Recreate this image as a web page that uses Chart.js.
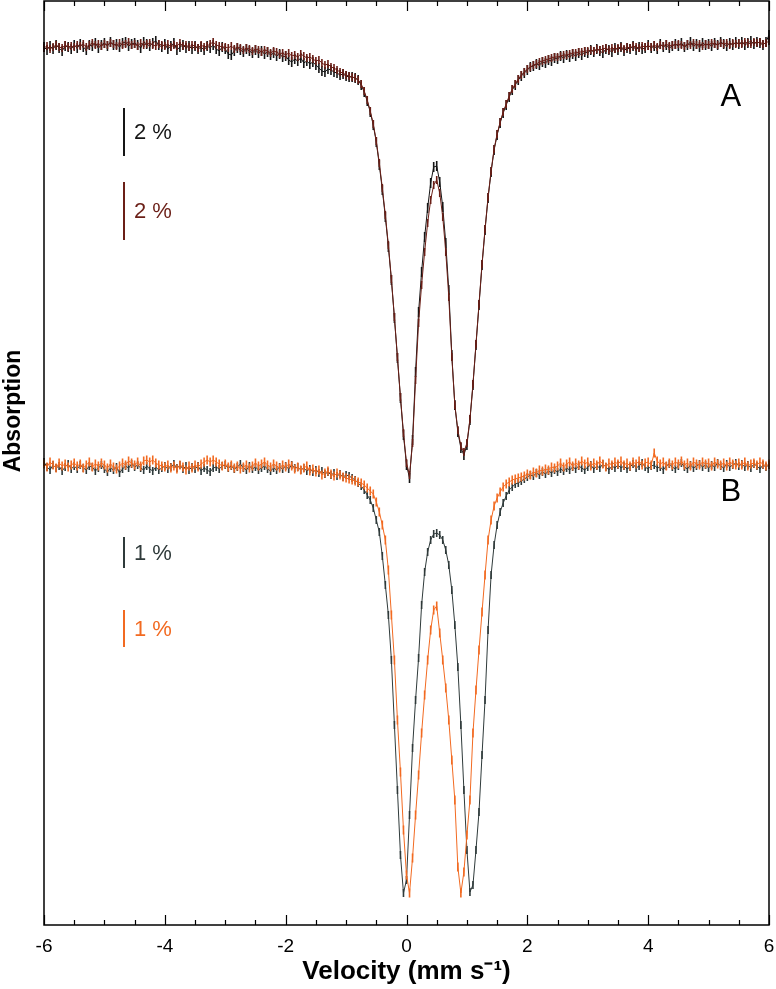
<!DOCTYPE html>
<html>
<head>
<meta charset="utf-8">
<script src="https://cdn.jsdelivr.net/npm/chart.js@4.4.1/dist/chart.umd.min.js"></script>
<style>
  html, body { margin: 0; padding: 0; background: #fff; }
  canvas { display: block; }
</style>
</head>
<body>
<canvas id="spectra" width="776" height="989"></canvas>
<script>
// velocity channels (mm/s)
const velocity = [
  -6,-5.95,-5.9,-5.85,-5.8,-5.75,-5.7,-5.65,-5.6,-5.55,
  -5.5,-5.45,-5.4,-5.35,-5.3,-5.25,-5.2,-5.15,-5.1,-5.05,
  -5,-4.95,-4.9,-4.85,-4.8,-4.75,-4.7,-4.65,-4.6,-4.55,
  -4.5,-4.45,-4.4,-4.35,-4.3,-4.25,-4.2,-4.15,-4.1,-4.05,
  -4,-3.95,-3.9,-3.85,-3.8,-3.75,-3.7,-3.65,-3.6,-3.55,
  -3.5,-3.45,-3.4,-3.35,-3.3,-3.25,-3.2,-3.15,-3.1,-3.05,
  -3,-2.95,-2.9,-2.85,-2.8,-2.75,-2.7,-2.65,-2.6,-2.55,
  -2.5,-2.45,-2.4,-2.35,-2.3,-2.25,-2.2,-2.15,-2.1,-2.05,
  -2,-1.95,-1.9,-1.85,-1.8,-1.75,-1.7,-1.65,-1.6,-1.55,
  -1.5,-1.45,-1.4,-1.35,-1.3,-1.25,-1.2,-1.15,-1.1,-1.05,
  -1,-0.95,-0.9,-0.85,-0.8,-0.75,-0.7,-0.65,-0.6,-0.55,
  -0.5,-0.45,-0.4,-0.35,-0.3,-0.25,-0.2,-0.15,-0.1,-0.05,
  0,0.05,0.1,0.15,0.2,0.25,0.3,0.35,0.4,0.45,
  0.5,0.55,0.6,0.65,0.7,0.75,0.8,0.85,0.9,0.95,
  1,1.05,1.1,1.15,1.2,1.25,1.3,1.35,1.4,1.45,
  1.5,1.55,1.6,1.65,1.7,1.75,1.8,1.85,1.9,1.95,
  2,2.05,2.1,2.15,2.2,2.25,2.3,2.35,2.4,2.45,
  2.5,2.55,2.6,2.65,2.7,2.75,2.8,2.85,2.9,2.95,
  3,3.05,3.1,3.15,3.2,3.25,3.3,3.35,3.4,3.45,
  3.5,3.55,3.6,3.65,3.7,3.75,3.8,3.85,3.9,3.95,
  4,4.05,4.1,4.15,4.2,4.25,4.3,4.35,4.4,4.45,
  4.5,4.55,4.6,4.65,4.7,4.75,4.8,4.85,4.9,4.95,
  5,5.05,5.1,5.15,5.2,5.25,5.3,5.35,5.4,5.45,
  5.5,5.55,5.6,5.65,5.7,5.75,5.8,5.85,5.9,5.95,6
];

// absorption, arbitrary display units (spectra stacked)
const spectrumA1 = [
  87.8,87.5,87.9,87.6,88.0,87.7,87.4,87.9,87.8,87.6,
  88.0,87.7,88.1,87.8,87.5,88.0,87.9,88.2,87.7,88.0,
  88.2,87.9,88.3,88.0,88.1,87.8,88.2,88.3,87.9,88.1,
  88.2,88.0,87.7,88.3,88.1,87.9,88.2,88.4,88.0,87.8,
  88.1,87.6,87.9,88.2,87.5,87.8,88.0,87.7,87.9,87.6,
  87.9,87.6,87.8,87.5,87.9,87.7,88.0,87.6,87.4,87.8,
  87.6,87.1,87.0,87.4,87.7,87.5,87.3,87.6,87.4,87.2,
  87.5,87.2,87.4,87.1,87.3,87.0,87.2,86.9,87.1,86.8,
  86.9,86.5,86.3,86.6,86.4,86.7,86.2,86.4,86.1,86.3,
  86.0,85.7,85.4,85.3,85.6,85.5,85.3,85.2,85.0,85.1,
  84.9,84.8,84.8,84.7,84.5,84.0,83.3,82.4,81.3,80.0,
  78.3,76.0,73.5,70.8,67.8,64.5,60.7,56.7,52.7,49.0,
  46.0,44.7,48.5,55.3,61.3,65.3,68.8,71.7,74.2,75.8,
  75.9,74.3,71.8,68.2,63.5,57.0,52.0,49.3,47.7,47.0,
  48.0,50.5,54.0,58.0,62.0,66.0,69.5,72.7,75.3,77.5,
  79.0,80.2,81.2,82.0,82.8,83.5,84.0,84.5,84.9,85.2,
  85.5,85.8,85.9,86.1,86.0,86.3,86.2,86.5,86.4,86.7,
  86.6,86.9,86.7,87.0,86.8,87.1,86.9,87.2,87.0,87.3,
  87.2,87.5,87.3,87.6,87.4,87.2,87.6,87.5,87.3,87.7,
  87.5,87.8,87.4,87.7,87.6,87.9,87.5,87.8,87.6,87.7,
  88.0,87.7,87.9,87.6,88.1,87.8,88.0,87.7,87.9,88.1,
  87.9,88.2,87.8,88.0,88.3,87.9,88.1,87.8,88.2,88.0,
  88.1,87.9,88.2,88.0,88.3,88.1,87.9,88.2,88.0,88.3,
  88.1,88.3,88.0,88.2,88.4,88.1,88.3,88.2,88.0,88.3,89.0
];

const spectrumA2 = [
  87.7,87.9,87.6,87.8,88.0,87.8,87.7,88.0,87.8,87.9,
  87.8,88.0,87.9,88.1,87.8,88.0,88.2,88.0,88.1,87.9,
  88.1,88.0,88.2,88.1,87.9,88.2,88.0,88.1,88.3,88.0,
  88.1,87.9,88.2,88.0,88.1,88.2,88.0,87.9,88.1,88.0,
  87.9,88.1,87.8,88.0,87.9,88.2,87.9,88.0,87.8,88.0,
  87.9,87.7,88.0,87.8,87.9,88.1,88.3,88.0,87.9,87.8,
  87.8,87.7,87.9,87.6,87.8,87.7,87.5,87.7,87.6,87.4,
  87.6,87.5,87.3,87.5,87.4,87.2,87.4,87.3,87.1,87.2,
  87.0,87.2,86.9,87.0,86.8,87.1,86.9,86.7,86.8,86.6,
  86.4,86.5,86.2,86.0,86.1,85.8,85.7,85.5,85.3,85.2,
  85.0,84.9,84.8,84.7,84.5,84.1,83.4,82.5,81.4,80.1,
  78.4,76.2,73.7,71.0,68.0,64.6,60.8,56.8,52.8,49.2,
  46.2,45.0,48.2,54.5,60.2,64.0,67.3,70.2,72.5,74.0,
  74.5,73.2,70.8,67.3,62.8,56.8,52.0,49.5,47.9,47.3,
  48.2,50.6,54.1,58.1,62.1,66.1,69.6,72.8,75.4,77.6,
  79.1,80.3,81.3,82.1,82.9,83.6,84.1,84.6,85.0,85.3,
  85.6,85.8,86.0,86.1,86.3,86.4,86.5,86.6,86.7,86.8,
  86.8,86.9,87.0,87.0,87.1,87.2,87.2,87.3,87.3,87.4,
  87.4,87.5,87.4,87.6,87.5,87.6,87.7,87.5,87.7,87.6,
  87.7,87.8,87.6,87.8,87.7,87.9,87.8,87.7,87.9,87.8,
  87.9,87.8,88.0,87.8,88.0,87.9,88.1,87.9,88.0,88.0,
  88.1,88.0,87.9,88.1,88.0,88.2,88.0,88.1,87.9,88.1,
  88.0,88.2,88.1,88.0,88.2,88.1,88.2,88.0,88.2,88.1,
  88.2,88.1,88.3,88.2,88.1,88.3,88.2,88.3,88.1,88.2,88.4
];

const spectrumB1 = [
  46.3,45.8,45.5,46.0,45.7,45.9,45.4,45.8,46.1,45.6,
  45.9,45.6,46.0,45.7,45.5,45.9,45.8,45.4,45.7,46.0,
  45.6,45.3,45.7,45.5,45.8,45.2,45.6,45.9,45.7,46.1,
  45.8,46.0,45.7,45.5,45.9,45.6,45.4,45.8,45.5,45.7,
  45.9,45.6,45.8,46.1,45.7,46.0,45.6,45.9,45.5,45.8,
  45.6,45.9,45.4,45.7,45.5,45.3,45.7,45.8,45.6,45.9,
  46.0,45.7,45.9,45.6,45.8,46.1,45.7,45.5,45.9,45.6,
  45.8,45.5,45.7,45.9,45.6,45.4,45.7,45.5,45.8,45.6,
  45.9,45.6,46.0,45.7,45.8,45.5,45.7,45.4,45.6,45.3,
  45.5,45.2,45.4,45.1,45.3,45.0,45.2,44.9,45.1,44.8,
  45.0,44.9,44.7,44.5,44.2,43.9,43.5,43.0,42.5,41.7,
  40.5,39.3,36.9,34.0,31.0,26.5,20.0,13.5,7.0,3.2,
  4.5,11.0,17.7,22.5,26.7,32.0,35.3,37.3,38.5,39.1,
  39.2,39.0,38.5,37.5,36.0,33.5,30.0,25.8,20.0,13.5,
  7.5,3.3,4.0,7.5,11.3,17.0,22.5,29.5,35.0,38.0,
  40.0,41.3,42.2,42.9,43.5,43.8,44.1,44.2,44.4,44.6,
  44.8,45.0,44.9,45.2,45.0,45.3,45.1,45.4,45.2,45.5,
  45.3,45.6,45.4,45.7,45.5,45.8,45.6,45.9,45.7,45.5,
  45.8,46.0,45.6,45.9,45.7,46.1,45.8,45.5,45.9,45.7,
  46.0,45.7,45.9,45.6,45.8,46.1,45.7,45.9,46.2,45.8,
  45.6,45.9,46.0,45.7,45.8,45.5,45.9,46.1,45.8,45.6,
  45.9,46.2,45.8,45.6,46.0,45.7,45.9,46.1,45.8,46.0,
  45.7,46.0,45.8,46.2,45.9,45.7,46.1,45.8,46.0,46.2,
  45.9,46.1,45.8,46.0,45.7,46.1,45.9,45.6,46.0,45.8,46.0
];

const spectrumB2 = [
  46.1,45.8,46.3,46.0,45.7,46.2,45.9,46.1,45.8,46.0,
  46.2,45.9,46.1,45.7,46.0,46.3,45.8,46.1,45.9,46.2,
  46.0,45.7,46.1,45.8,45.6,45.9,46.2,46.0,46.4,46.2,
  46.0,46.3,45.9,46.4,46.5,46.3,46.5,46.2,46.0,45.9,
  45.8,46.0,45.7,45.9,45.6,46.0,45.8,45.5,45.9,45.7,
  46.0,45.8,46.1,46.3,46.5,46.3,46.5,46.3,46.1,45.9,
  46.1,45.8,46.0,45.7,45.9,45.6,45.8,46.0,45.7,45.9,
  46.2,45.9,46.1,46.3,46.0,45.8,46.1,45.9,45.7,46.0,
  45.8,46.1,45.9,45.6,45.8,45.5,45.7,45.9,45.4,45.6,
  45.3,45.5,45.0,45.2,45.4,45.1,44.9,45.2,45.0,44.8,
  44.7,44.6,44.5,44.4,44.3,44.2,44.0,43.7,43.4,43.1,
  42.3,41.3,40.0,38.5,35.5,31.0,26.5,20.5,15.3,9.5,
  5.0,3.2,6.7,11.0,15.0,19.2,23.0,26.5,29.5,31.5,
  31.9,29.2,26.5,23.7,20.5,16.5,12.5,5.8,3.2,5.3,
  9.0,12.5,19.2,23.5,27.5,31.3,35.0,38.5,40.5,41.9,
  42.7,43.3,43.8,44.1,44.3,44.5,44.6,44.7,44.8,44.9,
  45.1,45.0,45.3,45.2,45.5,45.4,45.6,45.5,45.8,45.7,
  45.9,46.2,45.8,46.1,46.3,45.9,46.2,46.0,46.4,46.1,
  46.3,45.9,46.2,46.0,46.4,46.1,45.8,46.2,46.0,46.3,
  46.1,46.4,46.0,46.2,45.9,46.3,46.1,46.4,46.0,46.2,
  46.3,46.0,47.2,46.4,46.1,46.3,45.9,46.2,46.0,46.3,
  46.1,46.4,46.0,46.2,45.9,46.3,46.1,46.0,46.3,46.1,
  46.2,45.9,46.3,46.1,46.0,46.2,45.9,46.3,46.1,46.0,
  46.2,46.0,46.3,45.9,46.1,46.2,46.0,46.3,46.1,45.9,46.1
];

const seriesColors = ['#151515', '#6b1f17', '#2f3a3a', '#f26a21'];
const errorHalf = [0.5, 0.4, 0.4, 0.45];

// scale bars: label, top and bottom in absorption units, at this velocity
const scaleBarLabels = ['2 %', '2 %', '1 %', '1 %'];
const scaleBarTop = [81.7, 74.3, 38.8, 31.5];
const scaleBarBottom = [76.9, 68.5, 35.7, 27.8];
const scaleBarVelocity = -4.68;

const panelLabels = ['A', 'B'];
const panelLabelY = [82.8, 43.3];
const panelLabelVelocity = 5.37;

const FONT = "'Liberation Sans', Arial, Helvetica, sans-serif";

const errorBars = {
  id: 'errorBars',
  afterDatasetDraw(chart, args) {
    const ds = chart.data.datasets[args.index];
    const y = chart.scales.y;
    const ctx = chart.ctx;
    ctx.save();
    ctx.strokeStyle = ds.borderColor;
    ctx.lineWidth = 1.6;
    ctx.beginPath();
    args.meta.data.forEach((pt, i) => {
      const v = ds.data[i];
      ctx.moveTo(pt.x, y.getPixelForValue(v + ds.errHalf));
      ctx.lineTo(pt.x, y.getPixelForValue(v - ds.errHalf));
    });
    ctx.stroke();
    ctx.restore();
  }
};

const decorations = {
  id: 'decorations',
  afterDraw(chart) {
    const ctx = chart.ctx;
    const a = chart.chartArea;
    const x = chart.scales.x;
    const y = chart.scales.y;
    ctx.save();

    // frame
    ctx.strokeStyle = '#000';
    ctx.lineWidth = 1.5;
    ctx.strokeRect(a.left, a.top, a.right - a.left, a.bottom - a.top);

    // inward ticks top and bottom
    ctx.lineWidth = 1.2;
    ctx.beginPath();
    for (let v = x.min; v <= x.max + 1e-9; v += 0.5) {
      const px = Math.round(x.getPixelForValue(v)) + 0.5;
      const len = Math.abs(v % 2) < 1e-9 ? 10 : 5;
      ctx.moveTo(px, a.bottom);
      ctx.lineTo(px, a.bottom - len);
      ctx.moveTo(px, a.top);
      ctx.lineTo(px, a.top + len);
    }
    ctx.stroke();

    // y title
    ctx.save();
    ctx.translate(14, 411);
    ctx.rotate(-Math.PI / 2);
    ctx.font = 'bold 23px ' + FONT;
    ctx.fillStyle = '#000';
    ctx.textAlign = 'center';
    ctx.textBaseline = 'middle';
    ctx.fillText('Absorption', 0, 0);
    ctx.restore();

    // panel labels
    ctx.font = '31px ' + FONT;
    ctx.fillStyle = '#000';
    ctx.textAlign = 'center';
    ctx.textBaseline = 'middle';
    panelLabels.forEach((t, i) => {
      ctx.fillText(t, x.getPixelForValue(panelLabelVelocity), y.getPixelForValue(panelLabelY[i]));
    });

    // scale bars
    ctx.font = '22px ' + FONT;
    ctx.textAlign = 'left';
    scaleBarLabels.forEach((t, i) => {
      const bx = Math.round(x.getPixelForValue(scaleBarVelocity));
      const y0 = y.getPixelForValue(scaleBarTop[i]);
      const y1 = y.getPixelForValue(scaleBarBottom[i]);
      ctx.strokeStyle = seriesColors[i];
      ctx.fillStyle = seriesColors[i];
      ctx.lineWidth = 2;
      ctx.beginPath();
      ctx.moveTo(bx, y0);
      ctx.lineTo(bx, y1);
      ctx.stroke();
      ctx.fillText(t, bx + 10, (y0 + y1) / 2 + 1);
    });

    ctx.restore();
  }
};

const seriesData = [spectrumA1, spectrumA2, spectrumB1, spectrumB2];

new Chart(document.getElementById('spectra'), {
  type: 'line',
  data: {
    labels: velocity,
    datasets: seriesData.map((d, i) => ({
      data: d,
      borderColor: seriesColors[i],
      borderWidth: 1,
      pointRadius: 0,
      tension: 0,
      fill: false,
      errHalf: errorHalf[i],
      order: [3, 2, 1, 0][i]
    }))
  },
  options: {
    responsive: false,
    animation: false,
    events: [],
    layout: { padding: { top: 1, right: 0, left: 0, bottom: 0 } },
    plugins: {
      legend: { display: false },
      tooltip: { enabled: false }
    },
    scales: {
      x: {
        type: 'linear',
        min: -6,
        max: 6,
        afterFit(s) {
          s.height = 64;
          s.paddingRight = 7;
        },
        grid: { display: false, drawTicks: false },
        border: { display: false },
        ticks: {
          stepSize: 2,
          padding: 10,
          color: '#000',
          font: { family: FONT, size: 19 },
          callback: v => String(v)
        },
        title: {
          display: true,
          text: 'Velocity (mm s\u207B\u00B9)',
          color: '#000',
          font: { family: FONT, size: 26, weight: 'bold' },
          padding: { top: 0, bottom: 2 }
        }
      },
      y: {
        min: 0,
        max: 92.4,
        afterFit(s) { s.width = 44; },
        grid: { display: false, drawTicks: false },
        border: { display: false },
        ticks: { display: false }
      }
    }
  },
  plugins: [errorBars, decorations]
});
</script>
</body>
</html>
